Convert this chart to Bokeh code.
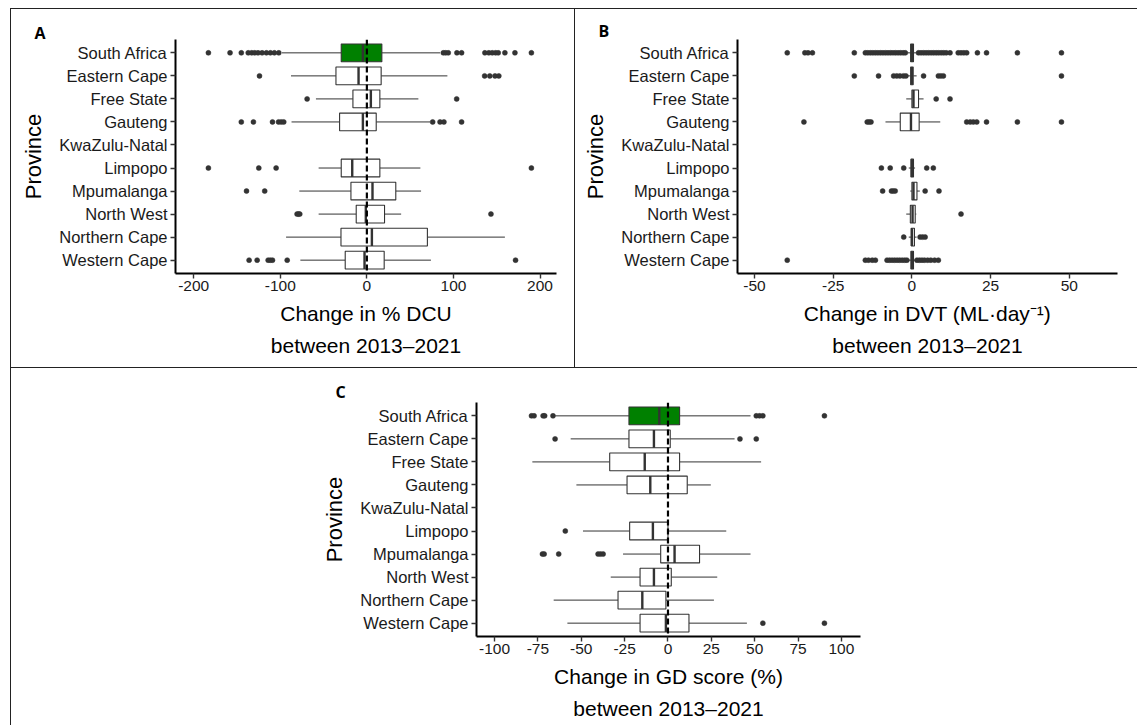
from bokeh.plotting import figure
from bokeh.models import Range1d, FixedTicker, Span, Title, ColumnDataSource
from bokeh.layouts import column, row
from bokeh.embed import file_html
from bokeh.resources import INLINE

provinces = ["South Africa", "Eastern Cape", "Free State", "Gauteng", "KwaZulu-Natal",
             "Limpopo", "Mpumalanga", "North West", "Northern Cape", "Western Cape"]

# ---------------- Panel A: change in % DCU ----------------
dcu_wlo = [-98, -87.6, -58.8, -87, None, -55.7, -78, -55.7, -93.3, -76.8]
dcu_q1 = [-29.6, -35.7, -16.1, -31.5, None, -29.6, -18.4, -12.3, -29.9, -25]
dcu_med = [-4.6, -9.6, 4.6, -4.6, None, -16.9, 6.5, -1.2, 5.8, -2.7]
dcu_q3 = [17.3, 16.5, 15, 10.8, None, 15, 33.4, 20.4, 69.9, 20]
dcu_whi = [84.5, 93, 59.5, 73, None, 61.8, 62.6, 39.6, 159.4, 74]
dcu_out = [
    [-183, -158, -145, -137, -133, -129.5, -125.7, -121, -116, -111.4, -106.8, -101.7,
     88.3, 91, 94, 104, 109.4, 136.3, 140.9, 144.8, 148.6, 151.7, 159.4, 171, 190],
    [-124, 136, 142, 148, 152.4],
    [-69, 103.7],
    [-145, -131, -109, -102, -99, -96, 76, 84.5, 89, 109.4],
    [],
    [-183, -124.8, -104.8, 190],
    [-139, -118],
    [-80.6, -79, -77.5, 143.3],
    [],
    [-136, -126.7, -114, -111.5, -109, -92, 171.7],
]
dcu_ticks = [-200, -100, 0, 100, 200]

# ---------------- Panel B: change in DVT ----------------
dvt_wlo = [-1.5, -1.5, -1.8, -8.4, None, -1.0, -0.5, -1.8, -1.0, -1.5]
dvt_q1 = [-0.4, -0.4, 0.0, -3.7, None, -0.3, 0.0, -0.5, -0.2, -0.3]
dvt_med = [0.0, 0.0, 0.5, -0.3, None, 0.0, 0.5, 0.2, 0.0, 0.0]
dvt_q3 = [0.5, 0.4, 2.1, 2.3, None, 0.5, 1.6, 1.05, 0.8, 0.5]
dvt_whi = [1.5, 1.5, 3.7, 9.0, None, 1.0, 2.5, 1.4, 1.5, 1.5]
dvt_out = [
    [-39.6, -34, -33, -31.6, -18.3, -14.8, -14, -13.2, -12.4, -11.6, -10.8, -10, -9.2,
     -8.4, -7.6, -6.8, -6, -5.2, -4.4, -3.6, -2.8, -2.1, 2.1, 2.9, 3.7, 4.5, 5.3, 6.1,
     6.9, 7.7, 8.5, 9.3, 10.1, 10.9, 12.1, 14.7, 15.6, 16.5, 17.4, 20.8, 23.7, 33.5, 47.5],
    [-18.3, -10.6, -5.8, -4.8, -3.8, -2.7, -1.9, 3.7, 8.4, 9.2, 10, 47.5],
    [7.7, 12.1],
    [-34.3, -14.2, -13.6, -13, 17.4, 18.5, 19.5, 20.6, 23.7, 33.5, 47.5],
    [],
    [-9.7, -6.9, -2.6, 4.7, 6.8],
    [-9.3, -6.5, -5.9, -5.3, 4.2, 8.6],
    [15.6],
    [-2.6, 2.6, 3.4, 4.2],
    [-39.6, -14.8, -13.8, -12.6, -11.6, -7.9, -7.1, -6.3, -5.5, -4.7, -3.9, -3.1, -2.3,
     -1.6, 1.6, 2.4, 3.2, 4.0, 5.0, 6.0, 7.2, 8.4],
]
dvt_ticks = [-50, -25, 0, 25, 50]

# ---------------- Panel C: change in GD score ----------------
gd_wlo = [-65, -56.1, -78.2, -52.8, None, -49, -25.9, -33, -65.9, -58]
gd_q1 = [-22.5, -22.5, -33.6, -23.6, None, -22.1, -4.2, -16.1, -28.8, -16.1]
gd_med = [-5, -8.1, -13.4, -10.2, None, -8.7, 3.8, -8.1, -14.8, -1.2]
gd_q3 = [6.7, 1.3, 6.7, 11.1, None, 0, 18.2, 1.9, -1.2, 12.1]
gd_whi = [47.6, 38.4, 53.7, 24.7, None, 33.6, 47.6, 28.4, 26.5, 45.5]
gd_out = [
    [-78.7, -77.2, -72, -71.1, -66.3, 50.9, 52.8, 54.7, 90.2],
    [-65.1, 41.5, 50.9],
    [],
    [],
    [],
    [-59.2],
    [-72.4, -71.4, -63, -40.3, -38.9, -37.4],
    [],
    [],
    [54.7, 90.2],
]
gd_ticks = [-100, -75, -50, -25, 0, 25, 50, 75, 100]

FONT = "Liberation Sans"
BOX_LINE = "#333333"
GREEN = "#008000"
BOX_H = 0.77


def make_panel(width, height, mb, xr, ticks, wlo, q1, med, q3, whi, outs,
               title1, title2, letter, dashed, styles):
    n = len(provinces)
    ypos = [n - i for i in range(n)]
    p = figure(width=width, height=height, x_range=Range1d(*xr),
               y_range=Range1d(0.42, n + 0.58), toolbar_location=None,
               output_backend="svg", min_border_left=mb[0], min_border_right=mb[1],
               min_border_top=mb[2], min_border_bottom=mb[3], styles=styles)
    p.outline_line_color = None
    p.xgrid.visible = False
    p.ygrid.visible = False
    p.background_fill_color = "white"
    p.border_fill_color = "white"

    ys, l, r, m, lo, hi, fills = [], [], [], [], [], [], []
    for i in range(n):
        if q1[i] is None:
            continue
        ys.append(ypos[i]); l.append(q1[i]); r.append(q3[i]); m.append(med[i])
        lo.append(wlo[i]); hi.append(whi[i])
        fills.append(GREEN if i == 0 else "white")
    src = ColumnDataSource(dict(y=ys, q1=l, q3=r, med=m, lo=lo, hi=hi, fill=fills,
                                y0=[y - BOX_H / 2 for y in ys],
                                y1=[y + BOX_H / 2 for y in ys]))
    p.segment(x0="lo", y0="y", x1="q1", y1="y", source=src, line_color=BOX_LINE, line_width=1)
    p.segment(x0="q3", y0="y", x1="hi", y1="y", source=src, line_color=BOX_LINE, line_width=1)
    p.hbar(y="y", left="q1", right="q3", height=BOX_H, source=src, fill_color="fill",
           line_color=BOX_LINE, line_width=1.1)
    p.segment(x0="med", y0="y0", x1="med", y1="y1", source=src, line_color=BOX_LINE,
              line_width=2.4)

    ox, oy = [], []
    for i in range(n):
        for v in outs[i]:
            ox.append(v); oy.append(ypos[i])
    p.scatter(ox, oy, size=5, fill_color="#333333", line_color="#333333", line_width=0.5)

    if dashed:
        p.add_layout(Span(location=0, dimension="height", line_color="black",
                          line_width=2.2, line_dash="6 3"))

    # axes
    p.xaxis.ticker = FixedTicker(ticks=ticks)
    p.xaxis.major_label_overrides = {t: str(t) for t in ticks}
    p.yaxis.ticker = FixedTicker(ticks=ypos)
    p.yaxis.major_label_overrides = {y: name for y, name in zip(ypos, provinces)}
    for ax in (p.xaxis, p.yaxis):
        ax.axis_line_color = "black"
        ax.axis_line_width = 2
        ax.major_tick_line_color = "#333333"
        ax.major_tick_line_width = 1.4
        ax.minor_tick_line_color = None
        ax.major_tick_in = 0
        ax.major_tick_out = 5
        ax.major_label_text_font = FONT
        ax.major_label_text_color = "#1a1a1a"
    p.xaxis.major_label_text_font_size = "15.5px"
    p.yaxis.major_label_text_font_size = "16.5px"
    p.xaxis.major_label_standoff = 2
    p.yaxis.major_label_standoff = 3
    p.yaxis.axis_label = "Province"
    p.yaxis.axis_label_text_font = FONT
    p.yaxis.axis_label_text_font_size = "22px"
    p.yaxis.axis_label_text_font_style = "normal"
    p.yaxis.axis_label_text_color = "black"
    p.yaxis.axis_label_standoff = 10

    # x-axis titles (two lines) below the axis
    p.add_layout(Title(text=title1, align="center", text_font=FONT, text_font_size="21px",
                       text_font_style="normal", text_color="black", standoff=13), "below")
    p.add_layout(Title(text=title2, align="center", text_font=FONT, text_font_size="21px",
                       text_font_style="normal", text_color="black", standoff=1), "below")
    # panel letter
    p.add_layout(Title(text=letter[0], align="left", offset=letter[1], text_font="Open Sans",
                       text_font_style="bold", text_font_size="16px", text_color="black",
                       standoff=letter[2]), "above")
    return p


LINE = "1px solid #222"
pA = make_panel(565, 359, (164, 20, 30, 95), (-221, 219), dcu_ticks,
                dcu_wlo, dcu_q1, dcu_med, dcu_q3, dcu_whi, dcu_out,
                "Change in % DCU", "between 2013\u20132021", ("A", -141, -8), True,
                {"border-top": LINE, "border-right": LINE, "border-left": LINE})
pB = make_panel(562, 359, (162, 20, 30, 95), (-55.4, 65.3), dvt_ticks,
                dvt_wlo, dvt_q1, dvt_med, dvt_q3, dvt_whi, dvt_out,
                "Change in DVT (ML\u00b7day\u207b\u00b9)", "between 2013\u20132021",
                ("B", -139, -4), False,
                {"border-top": LINE})
pC = make_panel(1127, 358, (465, 278, 34, 90), (-110.4, 111), gd_ticks,
                gd_wlo, gd_q1, gd_med, gd_q3, gd_whi, gd_out,
                "Change in GD score (%)", "between 2013\u20132021", ("C", -141, 0), True,
                {"border-top": LINE, "border-left": LINE})

layout = column(row(pA, pB), pC, margin=(8, 0, 0, 10))
open("out.html", "w").write(file_html(layout, INLINE))
